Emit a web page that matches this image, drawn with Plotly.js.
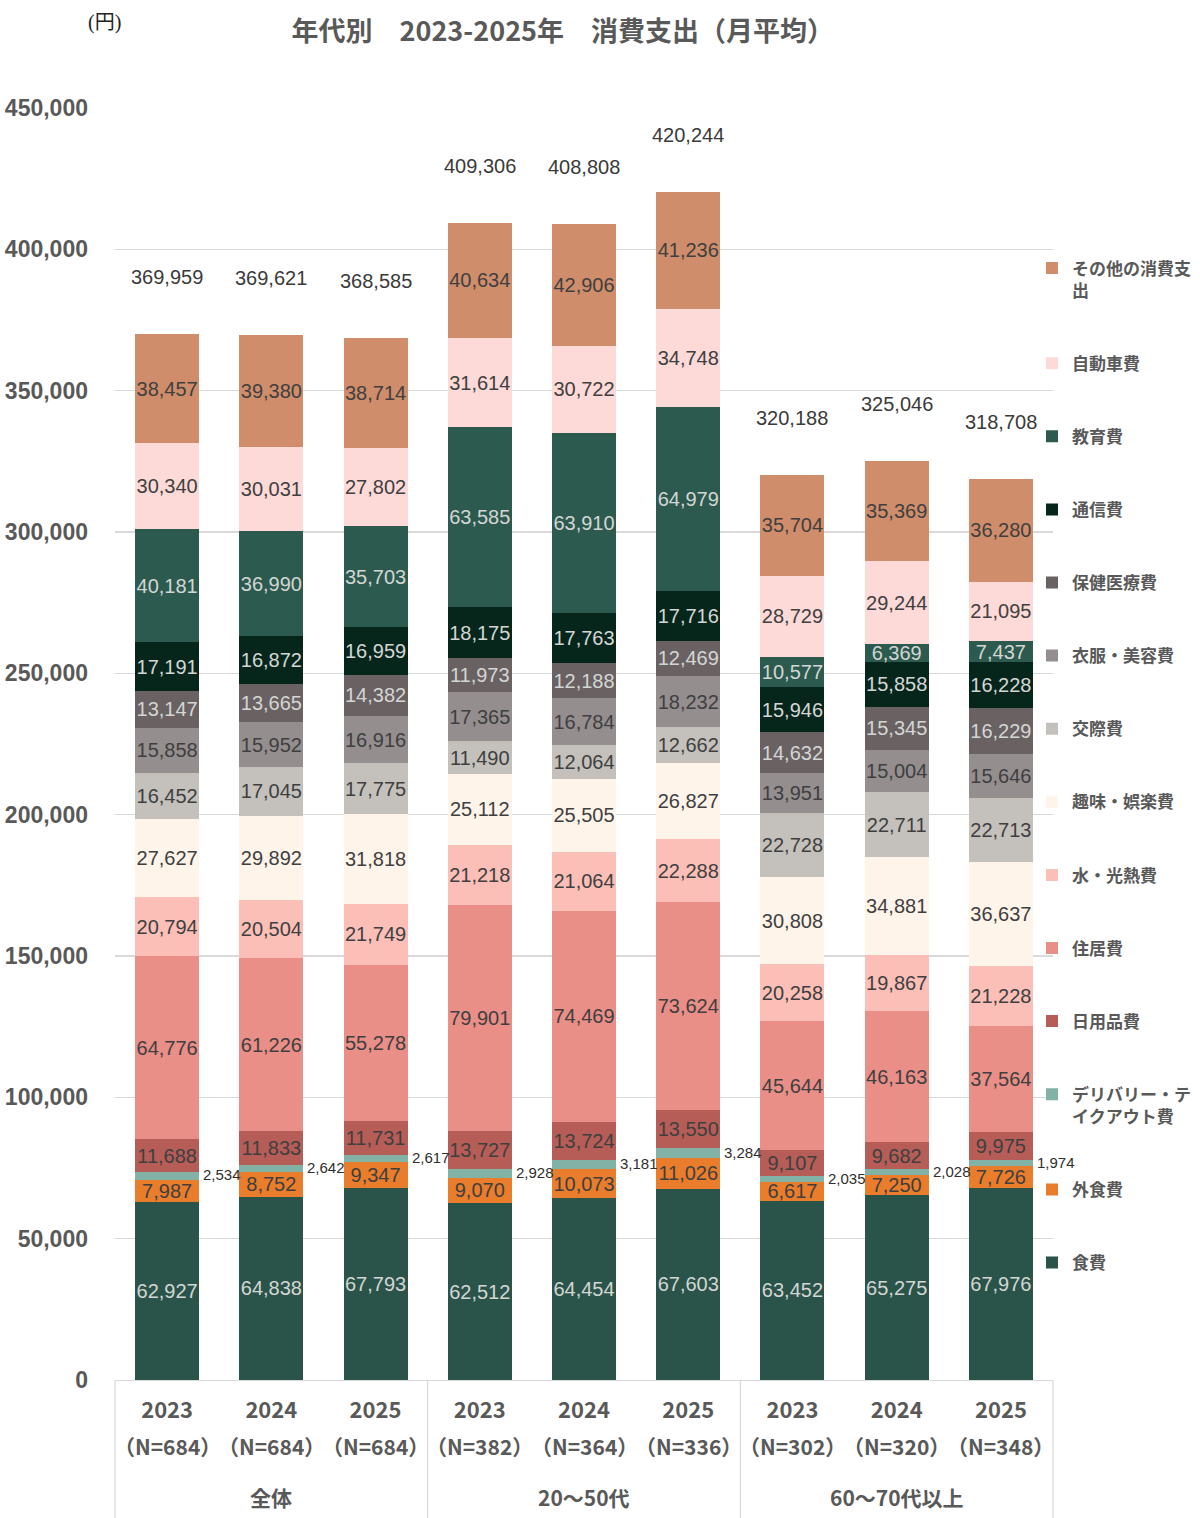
<!DOCTYPE html>
<html>
<head>
<meta charset="utf-8">
<script src="https://cdn.plot.ly/plotly-3.0.1.min.js"></script>
<style>
  html, body { margin: 0; padding: 0; background: #ffffff; }
  #chart { width: 1200px; height: 1518px; }
</style>
</head>
<body>
<div id="chart"></div>
<script>
// ---------- data ----------
const groups = ['全体', '20～50代', '60～70代以上'];
const years = ['2023', '2024', '2025', '2023', '2024', '2025', '2023', '2024', '2025'];
const sampleSizes = ['684', '684', '684', '382', '364', '336', '302', '320', '348'];

const food      = [62927, 64838, 67793, 62512, 64454, 67603, 63452, 65275, 67976];
const eatingOut = [7987, 8752, 9347, 9070, 10073, 11026, 6617, 7250, 7726];
const delivery  = [2534, 2642, 2617, 2928, 3181, 3284, 2035, 2028, 1974];
const daily     = [11688, 11833, 11731, 13727, 13724, 13550, 9107, 9682, 9975];
const housing   = [64776, 61226, 55278, 79901, 74469, 73624, 45644, 46163, 37564];
const utilities = [20794, 20504, 21749, 21218, 21064, 22288, 20258, 19867, 21228];
const hobby     = [27627, 29892, 31818, 25112, 25505, 26827, 30808, 34881, 36637];
const social    = [16452, 17045, 17775, 11490, 12064, 12662, 22728, 22711, 22713];
const clothing  = [15858, 15952, 16916, 17365, 16784, 18232, 13951, 15004, 15646];
const health    = [13147, 13665, 14382, 11973, 12188, 12469, 14632, 15345, 16229];
const telecom   = [17191, 16872, 16959, 18175, 17763, 17716, 15946, 15858, 16228];
const education = [40181, 36990, 35703, 63585, 63910, 64979, 10577, 6369, 7437];
const car       = [30340, 30031, 27802, 31614, 30722, 34748, 28729, 29244, 21095];
const other     = [38457, 39380, 38714, 40634, 42906, 41236, 35704, 35369, 36280];
const totals    = [369959, 369621, 368585, 409306, 408808, 420244, 320188, 325046, 318708];

const seriesNames = ['食費', '外食費', 'デリバリー・テイクアウト費', '日用品費', '住居費', '水・光熱費',
  '趣味・娯楽費', '交際費', '衣服・美容費', '保健医療費', '通信費', '教育費', '自動車費', 'その他の消費支出'];
const seriesValues = [food, eatingOut, delivery, daily, housing, utilities, hobby, social,
  clothing, health, telecom, education, car, other];

// ---------- styles ----------
const fills = ['#2a5449', '#ea7d2c', '#82b1a5', '#b75d58', '#ea8e88', '#fbbfb8', '#fff4ea',
  '#c4c1bd', '#958e8f', '#6a6163', '#06261c', '#2c5a4e', '#fdd9d7', '#cf8d6b'];
const LIGHT = '#d3d6d4', DARK = '#3f3f3f';
const labelColors = [LIGHT, DARK, DARK, DARK, DARK, DARK, DARK, DARK, DARK, LIGHT, LIGHT, LIGHT, DARK, DARK];
const legendNames = {
  'デリバリー・テイクアウト費': 'デリバリー・テ<br>イクアウト費',
  'その他の消費支出': 'その他の消費支<br>出'
};
const NUMFONT = 'Liberation Sans, Arial, Noto Sans CJK JP, sans-serif';
const JPFONT = 'Noto Sans CJK JP, Liberation Sans, sans-serif';
const GRAY = '#595959';

const xIdx = years.map((_, i) => i);

const traces = seriesNames.map((name, k) => ({
  type: 'bar',
  name: legendNames[name] || name,
  legendgroup: name,
  legendrank: seriesNames.length - k,
  x: xIdx,
  y: seriesValues[k],
  marker: { color: fills[k], line: { width: 0 } },
  texttemplate: name === 'デリバリー・テイクアウト費' ? '' : '%{y:,d}',
  textposition: 'inside',
  insidetextanchor: 'middle',
  textangle: 0,
  constraintext: 'none',
  cliponaxis: false,
  insidetextfont: { family: NUMFONT, size: 20, color: labelColors[k] },
  hoverinfo: 'skip'
}));

const annotations = [];
// totals above bars
totals.forEach((t, i) => {
  annotations.push({
    x: i, y: t, xref: 'x', yref: 'y', text: t.toLocaleString('en-US'),
    showarrow: false, yshift: 57, font: { family: NUMFONT, size: 20, color: '#3a3a3a' }
  });
});
// delivery labels to the right of the bars
delivery.forEach((v, i) => {
  const mid = food[i] + eatingOut[i] + v / 2;
  annotations.push({
    x: i, y: mid, xref: 'x', yref: 'y', text: v.toLocaleString('en-US'),
    showarrow: false, xanchor: 'left', xshift: 34, yshift: 1,
    font: { family: NUMFONT, size: 15, color: '#2e2e2e' }
  });
});
// sample size line under years
sampleSizes.forEach((n, i) => {
  annotations.push({
    x: i, y: -0.052, xref: 'x', yref: 'paper', text: '（N=' + n + '）',
    showarrow: false, yanchor: 'middle',
    font: { family: JPFONT, size: 21, color: GRAY, weight: 'bold' }
  });
});
// group labels
groups.forEach((g, j) => {
  annotations.push({
    x: j * 3 + 1, y: -0.092, xref: 'x', yref: 'paper', text: g,
    showarrow: false, yanchor: 'middle',
    font: { family: JPFONT, size: 21, color: GRAY, weight: 'bold' }
  });
});
// unit label
annotations.push({
  x: -0.011, y: 1.0676, xref: 'paper', yref: 'paper', text: '(円)',
  showarrow: false, xanchor: 'center', yanchor: 'middle',
  font: { family: 'Liberation Serif, Noto Sans CJK JP, serif', size: 20, color: '#222222' }
});

const shapes = [0, 1 / 3, 2 / 3, 1].map(px => ({
  type: 'line', xref: 'paper', yref: 'paper', x0: px, x1: px, y0: 0, y1: -0.11,
  line: { color: '#d9d9d9', width: 1.2 }
}));

const layout = {
  width: 1200, height: 1518,
  margin: { l: 115, r: 147, t: 108, b: 138, autoexpand: false },
  paper_bgcolor: '#ffffff', plot_bgcolor: '#ffffff',
  barmode: 'stack', bargap: 0.386,
  title: {
    text: '年代別　2023-2025年　消費支出（月平均）',
    x: 0.469, xanchor: 'center', xref: 'container',
    y: 0.979, yanchor: 'middle', yref: 'container',
    font: { family: JPFONT, size: 27, color: GRAY, weight: 'bold' }
  },
  showlegend: true,
  legend: {
    x: 0.9776, xanchor: 'left', y: 0.888, yanchor: 'top',
    traceorder: 'grouped', tracegroupgap: 48, valign: 'top',
    bgcolor: 'rgba(0,0,0,0)',
    font: { family: JPFONT, size: 17, color: GRAY, weight: 'bold' }
  },
  xaxis: {
    type: 'linear', range: [-0.5, 8.5], tickvals: xIdx, ticktext: years,
    showgrid: false, zeroline: false, showline: true, linecolor: '#d9d9d9', linewidth: 1.2,
    ticks: '', ticklabelstandoff: 10,
    tickfont: { family: JPFONT, size: 22, color: GRAY, weight: 'bold' }
  },
  yaxis: {
    range: [0, 450000], tickvals: [0, 50000, 100000, 150000, 200000, 250000, 300000, 350000, 400000, 450000],
    tickformat: ',d', showgrid: true, gridcolor: '#d9d9d9', gridwidth: 1.2,
    zeroline: false, showline: false, ticks: '', ticklabelstandoff: 26,
    tickfont: { family: NUMFONT, size: 23, color: GRAY, weight: 'bold' }
  },
  annotations: annotations,
  shapes: shapes
};

Plotly.newPlot('chart', traces, layout, { staticPlot: true, displayModeBar: false });
</script>
</body>
</html>
